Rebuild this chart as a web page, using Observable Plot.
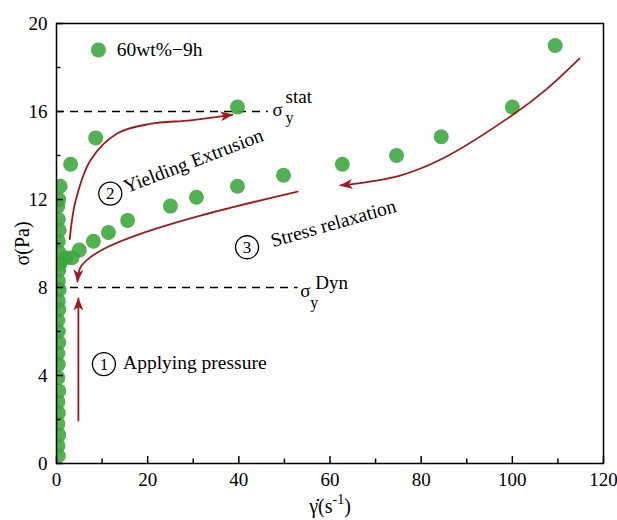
<!DOCTYPE html>
<html><head><meta charset="utf-8">
<script src="https://cdn.jsdelivr.net/npm/d3@7"></script>
<script src="https://cdn.jsdelivr.net/npm/@observablehq/plot@0.6"></script>
<style>body{margin:0;background:#fff} svg text{font-family:'Liberation Serif','Times New Roman',serif}</style>
</head><body><div id="chart"></div>
<script>
// ---- data ----
const seriesName = "60wt%\u22129h";
// points stacked along the y axis (pressure ramp)
const rampX = [0.4,0.3,0.5,0.3,0.4,0.3,0.5,0.3,0.4,0.3,0.5,0.4,0.3,0.5,0.4,0.6,0.4,0.5,0.8,0.5,0.4,0.6,0.4,0.3,0.5];
const rampY = [0.35,0.8,1.3,1.8,2.3,2.8,3.3,3.9,4.5,5.0,5.5,6.0,6.5,7.0,7.4,7.9,8.3,8.8,9.1,9.6,10.1,10.6,11.1,11.7,12.0];
// yielding branch
const yieldX = [0.8,3.1,8.6,39.7];
const yieldY = [12.6,13.6,14.8,16.2];
// flow / relaxation branch
const flowX = [2.0,3.4,5.0,8.1,11.4,15.6,25.0,30.7,39.7,49.8,62.7,74.6,84.4,100.0,109.4];
const flowY = [9.35,9.35,9.7,10.1,10.5,11.05,11.7,12.1,12.6,13.1,13.6,14.0,14.85,16.2,19.0];

// annotation arrows (data coordinates)
const arrowPressX = [4.8,4.8];
const arrowPressY = [1.95,7.5];
const arrowYieldX = [2.9,4.2,7.5,13.3,20.6,29.4,38.6];
const arrowYieldY = [10.2,11.95,13.8,15.0,15.44,15.6,15.86];
const arrowDownX = [114.7,107.6,99.9,84.6,75.4,62.3];
const arrowDownY = [18.4,17.03,15.82,13.85,13.09,12.64];
const arrowRelaxX = [52.9,31.6,18.4,11.1,7.46,5.26,4.6];
const arrowRelaxY = [12.36,11.27,10.44,9.83,9.38,8.92,8.27];

// yield stress reference lines
const yieldLines = [{y:16, x2:46.5}, {y:8, x2:53}];
const statLabel = [{x:47.4, y:16}];
const dynLabel = [{x:53.5, y:8}];

// circled step numbers and texts
const steps = [{x:10.4, y:4.52, n:"1"}, {x:11.8, y:12.27, n:"2"}, {x:41.8, y:9.83, n:"3"}];
const stepTexts = [
  {x:14.6, y:4.6, t:"Applying pressure", r:0},
  {x:14.9, y:12.55, t:"Yielding Extrusion", r:-21},
  {x:47.1, y:10.1, t:"Stress relaxation", r:-16}
];
const legendPos = [{x:9.2, y:18.8}];
const legendTextPos = [{x:13.2, y:18.8}];

const xMajor = [0,20,40,60,80,100,120];
const xMinor = [10,30,50,70,90,110];
const yMajor = [0,4,8,12,16,20];
const yMinor = [2,6,10,14,18];

const green = "#3aa63a";
const red = "#a01a1c";
const font = "Liberation Serif";

const pts = (xs, ys) => xs.map((x, i) => ({x, y: ys[i]}));
const ramp = pts(rampX, rampY), yieldPts = pts(yieldX, yieldY), flowPts = pts(flowX, flowY);
const T = {fontFamily: font, fill: "black"};

const plot = Plot.plot({
  width: 617, height: 520,
  marginLeft: 56, marginRight: 14, marginTop: 23, marginBottom: 57,
  style: "font-family: 'Liberation Serif', serif; font-size: 19px; background: white; color: black;",
  x: {domain: [0, 120]},
  y: {domain: [0, 20]},
  marks: [
    Plot.ruleY(yieldLines, {y: "y", x1: 0, x2: "x2", stroke: "black", strokeWidth: 1.3, strokeDasharray: "8,6"}),
    Plot.dot(ramp, {x: "x", y: "y", r: 7.5, fill: green, fillOpacity: 0.88, clip: true}),
    Plot.dot(yieldPts, {x: "x", y: "y", r: 7.5, fill: green, fillOpacity: 0.88, clip: true}),
    Plot.dot(flowPts, {x: "x", y: "y", r: 7.5, fill: green, fillOpacity: 0.88, clip: true}),
    Plot.line(pts(arrowPressX, arrowPressY), {x: "x", y: "y", stroke: red, strokeWidth: 1.8}),
    Plot.line(pts(arrowYieldX, arrowYieldY), {x: "x", y: "y", stroke: red, strokeWidth: 1.8, curve: "catmull-rom"}),
    Plot.line(pts(arrowDownX, arrowDownY), {x: "x", y: "y", stroke: red, strokeWidth: 1.8, curve: "catmull-rom"}),
    Plot.line(pts(arrowRelaxX, arrowRelaxY), {x: "x", y: "y", stroke: red, strokeWidth: 1.8, curve: "catmull-rom"}),
    Plot.dot(steps, {x: "x", y: "y", r: 11.5, stroke: "black", strokeWidth: 1.3, fill: "white"}),
    Plot.text(steps, {x: "x", y: "y", text: "n", fontSize: 17, ...T}),
    Plot.text(stepTexts, {x: "x", y: "y", text: "t", rotate: "r", textAnchor: "start", fontSize: 19.5, ...T}),
    Plot.dot(legendPos, {x: "x", y: "y", r: 7.5, fill: green, fillOpacity: 0.88}),
    Plot.text(legendTextPos, {x: "x", y: "y", text: () => seriesName, textAnchor: "start", fontSize: 19.5, ...T}),
    // sigma_y^stat
    Plot.text(statLabel, {x: "x", y: "y", text: () => "\u03c3", textAnchor: "start", lineAnchor: "bottom", dy: 4, fontSize: 19, ...T}),
    Plot.text(statLabel, {x: "x", y: "y", text: () => "y", textAnchor: "start", lineAnchor: "bottom", dx: 13, dy: 11, fontSize: 16, ...T}),
    Plot.text(statLabel, {x: "x", y: "y", text: () => "stat", textAnchor: "start", lineAnchor: "bottom", dx: 13, dy: -9, fontSize: 19, ...T}),
    // sigma_y^Dyn
    Plot.text(dynLabel, {x: "x", y: "y", text: () => "\u03c3", textAnchor: "start", lineAnchor: "bottom", dy: 9, fontSize: 19, ...T}),
    Plot.text(dynLabel, {x: "x", y: "y", text: () => "y", textAnchor: "start", lineAnchor: "bottom", dx: 10, dy: 20, fontSize: 16, ...T}),
    Plot.text(dynLabel, {x: "x", y: "y", text: () => "Dyn", textAnchor: "start", lineAnchor: "bottom", dx: 15, dy: 1, fontSize: 19, ...T}),
    // axes
    Plot.axisX(xMajor, {anchor: "bottom", tickSize: 0, tickPadding: 9, fontSize: 19, fontFamily: font, label: null}),
    Plot.axisX(xMajor, {anchor: "bottom", tickSize: 7, dy: -7, strokeWidth: 1.5, tickFormat: () => "", label: null}),
    Plot.axisX(xMinor, {anchor: "bottom", tickSize: 4.5, dy: -4.5, strokeWidth: 1.5, tickFormat: () => "", label: null}),
    Plot.axisY(yMajor, {anchor: "left", tickSize: 0, tickPadding: 9, fontSize: 19, fontFamily: font, label: null}),
    Plot.axisY(yMajor, {anchor: "left", tickSize: 7, dx: 7, strokeWidth: 1.5, tickFormat: () => "", label: null}),
    Plot.axisY(yMinor, {anchor: "left", tickSize: 4.5, dx: 4.5, strokeWidth: 1.5, tickFormat: () => "", label: null}),
    Plot.frame({stroke: "black", strokeWidth: 1.5})
  ]
});
document.getElementById("chart").appendChild(plot);

// arrowheads and axis titles
const svg = d3.select(plot);
svg.append("defs").append("marker")
  .attr("id", "ah").attr("viewBox", "0 0 13 10").attr("refX", 12).attr("refY", 5)
  .attr("markerWidth", 13).attr("markerHeight", 10).attr("markerUnits", "userSpaceOnUse").attr("orient", "auto")
  .append("path").attr("d", "M0,0 L13,5 L0,10 L3.5,5 Z").attr("fill", red);
svg.selectAll('g[aria-label="line"] path').attr("marker-end", "url(#ah)");

const xt = svg.append("text").attr("x", 330).attr("y", 513).attr("text-anchor", "middle")
  .attr("font-family", font).attr("font-size", 20).attr("fill", "black");
xt.append("tspan").text("\u03b3\u0307(s");
xt.append("tspan").attr("dy", -9).attr("font-size", 14).text("-1");
xt.append("tspan").attr("dy", 9).text(")");

svg.append("text").attr("transform", "translate(29,243.5) rotate(-90)").attr("text-anchor", "middle")
  .attr("font-family", font).attr("font-size", 20).attr("fill", "black").text("\u03c3(Pa)");
</script></body></html>
